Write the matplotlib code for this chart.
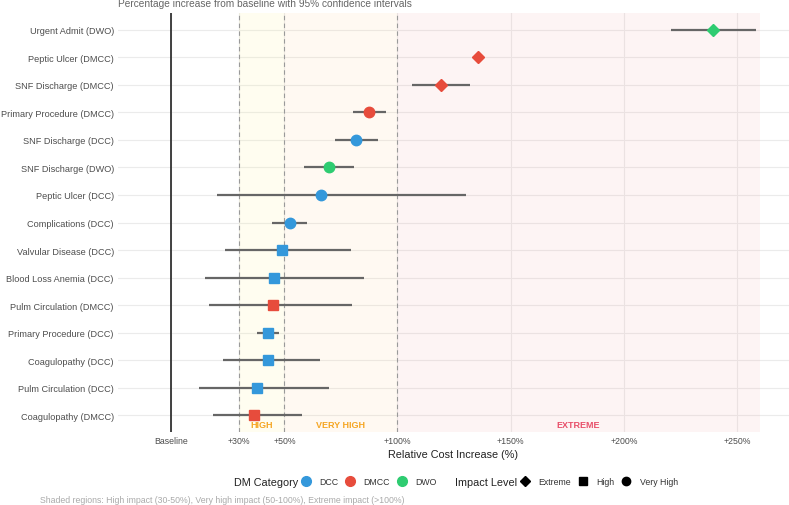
import matplotlib.pyplot as plt
from matplotlib.lines import Line2D

plt.rcParams['font.family'] = ['Liberation Sans', 'DejaVu Sans']

# rows listed top to bottom
labels = ['Urgent Admit (DWO)', 'Peptic Ulcer (DMCC)', 'SNF Discharge (DMCC)',
          'Primary Procedure (DMCC)', 'SNF Discharge (DCC)', 'SNF Discharge (DWO)',
          'Peptic Ulcer (DCC)', 'Complications (DCC)', 'Valvular Disease (DCC)',
          'Blood Loss Anemia (DCC)', 'Pulm Circulation (DMCC)', 'Primary Procedure (DCC)',
          'Coagulopathy (DCC)', 'Pulm Circulation (DCC)', 'Coagulopathy (DMCC)']
category = ['DWO', 'DMCC', 'DMCC', 'DMCC', 'DCC', 'DWO', 'DCC', 'DCC', 'DCC',
            'DCC', 'DMCC', 'DCC', 'DCC', 'DCC', 'DMCC']
impact = ['Extreme', 'Extreme', 'Extreme', 'Very High', 'Very High', 'Very High',
          'Very High', 'Very High', 'High', 'High', 'High', 'High', 'High', 'High', 'High']
estimate = [239.4, 135.6, 119.2, 87.5, 81.6, 69.6, 66.1, 52.3, 49.0, 45.6, 44.9, 42.8, 42.7, 37.9, 36.8]
ci_low = [220.9, 134.8, 106.4, 80.2, 72.4, 58.6, 20.1, 44.5, 24.0, 14.9, 16.9, 37.9, 22.8, 12.3, 18.3]
ci_high = [258.2, 136.4, 132.0, 95.0, 91.2, 80.8, 130.1, 60.2, 79.4, 85.1, 79.7, 47.5, 65.8, 69.9, 58.0]

cat_colors = {'DCC': '#3498DB', 'DMCC': '#E74C3C', 'DWO': '#2ECC71'}
shapes = {'Extreme': 'D', 'High': 's', 'Very High': 'o'}
sizes = {'Extreme': 6.3, 'High': 7.5, 'Very High': 7.5}

xticks = [0, 30, 50, 100, 150, 200, 250]
xticklabels = ['Baseline', '+30%', '+50%', '+100%', '+150%', '+200%', '+250%']

fig = plt.figure(figsize=(7.89, 5.06), dpi=100)
ax = fig.add_axes([118 / 789, 1 - 433 / 506, 671 / 789, 419 / 506])

n = len(labels)
ys = [n - i for i in range(n)]

# shaded impact regions
ax.axvspan(30, 50, color='#FFF59D', alpha=0.15, lw=0, zorder=1)
ax.axvspan(50, 100, color='#FFCC80', alpha=0.1, lw=0, zorder=1)
ax.axvspan(100, 260, color='#EF9A9A', alpha=0.1, lw=0, zorder=1)
for v in [30, 50, 100]:
    ax.axvline(v, color='#9a9a9a', lw=0.8, ls=(0, (4, 3)), zorder=2)
ax.axvline(0, color='#222222', lw=1.2, zorder=2)

ax.text(40, 0.68, 'HIGH', color='#F5A623', fontsize=6.5, fontweight='bold', ha='center', va='center', zorder=3)
ax.text(75, 0.68, 'VERY HIGH', color='#F5A623', fontsize=6.5, fontweight='bold', ha='center', va='center', zorder=3)
ax.text(180, 0.68, 'EXTREME', color='#E8506A', fontsize=6.5, fontweight='bold', ha='center', va='center', zorder=3)

for y, c, imp, e, lo, hi in zip(ys, category, impact, estimate, ci_low, ci_high):
    ax.plot([lo, hi], [y, y], color='#666666', lw=1.6, solid_capstyle='butt', zorder=4)
    ax.plot(e, y, marker=shapes[imp], ms=sizes[imp], color=cat_colors[c], mec=cat_colors[c], zorder=5)

ax.set_xlim(-23.5, 273)
ax.set_ylim(0.4, n + 0.6)
ax.set_yticks(ys)
ax.set_yticklabels(labels, fontsize=6.6, color='#4d4d4d')
ax.set_xticks(xticks)
ax.set_xticklabels(xticklabels, fontsize=6.3, color='#4d4d4d')
ax.tick_params(axis='y', length=0, pad=3)
ax.tick_params(axis='x', length=0, pad=3)
ax.grid(True, color='#ebebeb', lw=0.8, zorder=0)
ax.set_axisbelow(True)
for s in ax.spines.values():
    s.set_visible(False)
ax.set_xlabel('Relative Cost Increase (%)', fontsize=7.8, color='#222222', labelpad=3)

fig.text(118 / 789, 0.992, 'Percentage increase from baseline with 95% confidence intervals',
         fontsize=7.3, color='#666666', ha='left', va='center')

# legends
cat_handles = [Line2D([], [], ls='', marker='o', ms=7, color=cat_colors[k]) for k in ['DCC', 'DMCC', 'DWO']]
imp_handles = [Line2D([], [], ls='', marker=shapes[k], ms=6 if k != 'Extreme' else 5, color='black')
               for k in ['Extreme', 'High', 'Very High']]
ly = 1 - 483 / 506
fig.text(234 / 789, ly, 'DM Category', fontsize=7.8, color='#222222', ha='left', va='center')
fig.text(455 / 789, ly, 'Impact Level', fontsize=7.8, color='#222222', ha='left', va='center')
leg1 = fig.legend(cat_handles, ['DCC', 'DMCC', 'DWO'], loc='center left', bbox_to_anchor=(301.5 / 789, ly),
                  ncol=3, frameon=False, fontsize=6.3, handlelength=1.0, handletextpad=1.0,
                  columnspacing=0.9, borderpad=0, borderaxespad=0)
leg2 = fig.legend(imp_handles, ['Extreme', 'High', 'Very High'], loc='center left', bbox_to_anchor=(520.5 / 789, ly),
                  ncol=3, frameon=False, fontsize=6.3, handlelength=1.0, handletextpad=1.0,
                  columnspacing=0.9, borderpad=0, borderaxespad=0)
for leg in (leg1, leg2):
    for t in leg.get_texts():
        t.set_color('#333333')

fig.text(40 / 789, 1 - 501 / 506,
         'Shaded regions: High impact (30-50%), Very high impact (50-100%), Extreme impact (>100%)',
         fontsize=6.3, color='#aaaaaa', ha='left', va='center')

fig.savefig('out.png', dpi=100)
